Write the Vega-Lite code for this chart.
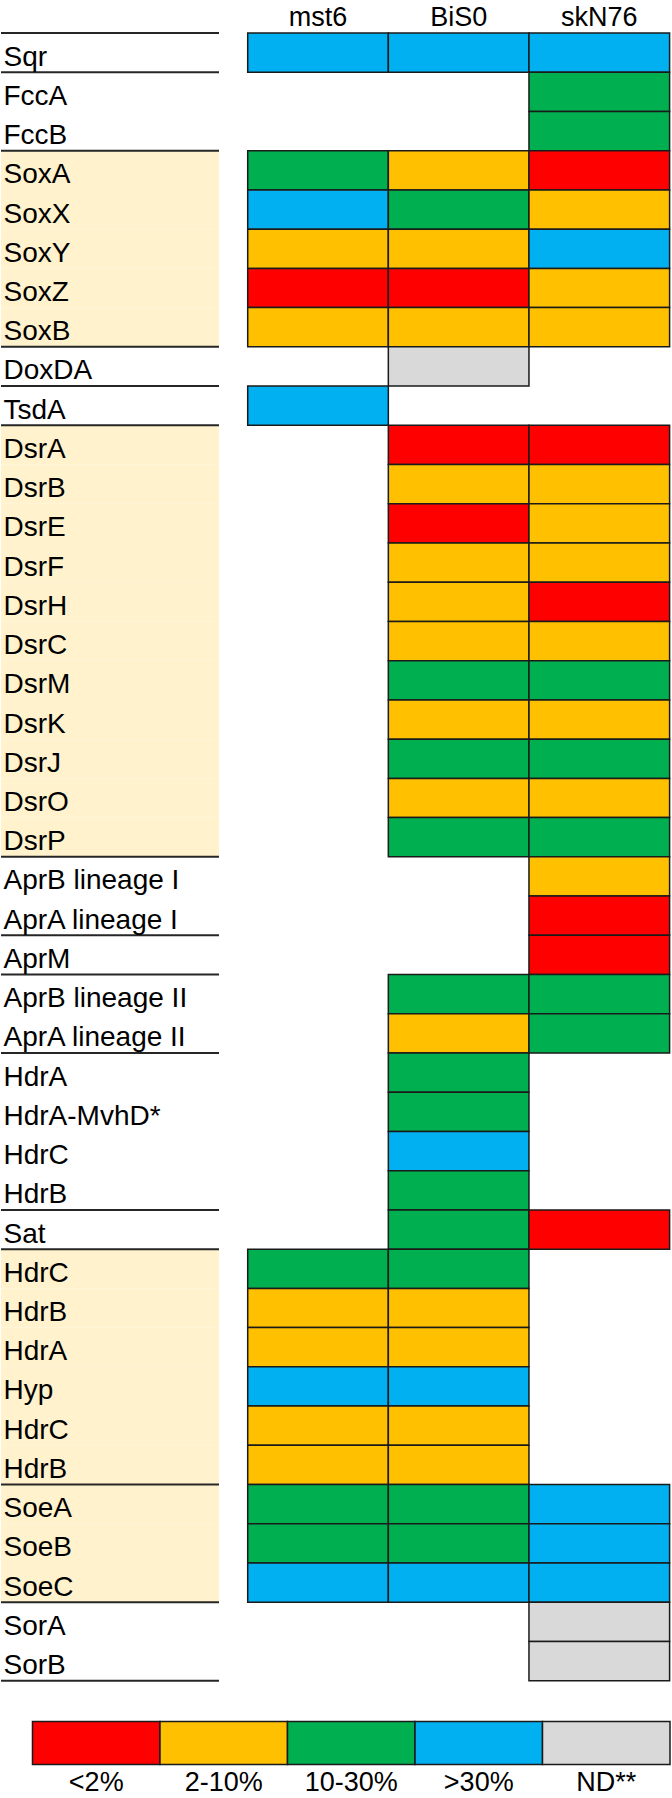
{
  "$schema": "https://vega.github.io/schema/vega-lite/v6.json",
  "padding": {"left": 0, "top": 3, "right": 0, "bottom": 0},
  "background": "white",
  "config": {"view": {"stroke": null}, "font": "Liberation Sans"},
  "datasets": {
    "rows": [
      {"i": 0, "key": "00 Sqr", "group": "Sqr", "shade": false, "mst6": ">30%", "BiS0": ">30%", "skN76": ">30%"},
      {"i": 1, "key": "01 FccA", "group": "Fcc", "shade": false, "skN76": "10-30%"},
      {"i": 2, "key": "02 FccB", "group": "Fcc", "shade": false, "skN76": "10-30%"},
      {"i": 3, "key": "03 SoxA", "group": "Sox", "shade": true, "mst6": "10-30%", "BiS0": "2-10%", "skN76": "<2%"},
      {"i": 4, "key": "04 SoxX", "group": "Sox", "shade": true, "mst6": ">30%", "BiS0": "10-30%", "skN76": "2-10%"},
      {"i": 5, "key": "05 SoxY", "group": "Sox", "shade": true, "mst6": "2-10%", "BiS0": "2-10%", "skN76": ">30%"},
      {"i": 6, "key": "06 SoxZ", "group": "Sox", "shade": true, "mst6": "<2%", "BiS0": "<2%", "skN76": "2-10%"},
      {"i": 7, "key": "07 SoxB", "group": "Sox", "shade": true, "mst6": "2-10%", "BiS0": "2-10%", "skN76": "2-10%"},
      {"i": 8, "key": "08 DoxDA", "group": "DoxDA", "shade": false, "BiS0": "ND**"},
      {"i": 9, "key": "09 TsdA", "group": "TsdA", "shade": false, "mst6": ">30%"},
      {"i": 10, "key": "10 DsrA", "group": "Dsr", "shade": true, "BiS0": "<2%", "skN76": "<2%"},
      {"i": 11, "key": "11 DsrB", "group": "Dsr", "shade": true, "BiS0": "2-10%", "skN76": "2-10%"},
      {"i": 12, "key": "12 DsrE", "group": "Dsr", "shade": true, "BiS0": "<2%", "skN76": "2-10%"},
      {"i": 13, "key": "13 DsrF", "group": "Dsr", "shade": true, "BiS0": "2-10%", "skN76": "2-10%"},
      {"i": 14, "key": "14 DsrH", "group": "Dsr", "shade": true, "BiS0": "2-10%", "skN76": "<2%"},
      {"i": 15, "key": "15 DsrC", "group": "Dsr", "shade": true, "BiS0": "2-10%", "skN76": "2-10%"},
      {"i": 16, "key": "16 DsrM", "group": "Dsr", "shade": true, "BiS0": "10-30%", "skN76": "10-30%"},
      {"i": 17, "key": "17 DsrK", "group": "Dsr", "shade": true, "BiS0": "2-10%", "skN76": "2-10%"},
      {"i": 18, "key": "18 DsrJ", "group": "Dsr", "shade": true, "BiS0": "10-30%", "skN76": "10-30%"},
      {"i": 19, "key": "19 DsrO", "group": "Dsr", "shade": true, "BiS0": "2-10%", "skN76": "2-10%"},
      {"i": 20, "key": "20 DsrP", "group": "Dsr", "shade": true, "BiS0": "10-30%", "skN76": "10-30%"},
      {"i": 21, "key": "21 AprB lineage I", "group": "AprI", "shade": false, "skN76": "2-10%"},
      {"i": 22, "key": "22 AprA lineage I", "group": "AprI", "shade": false, "skN76": "<2%"},
      {"i": 23, "key": "23 AprM", "group": "AprM", "shade": false, "skN76": "<2%"},
      {"i": 24, "key": "24 AprB lineage II", "group": "AprII", "shade": false, "BiS0": "10-30%", "skN76": "10-30%"},
      {"i": 25, "key": "25 AprA lineage II", "group": "AprII", "shade": false, "BiS0": "2-10%", "skN76": "10-30%"},
      {"i": 26, "key": "26 HdrA", "group": "HdrMvh", "shade": false, "BiS0": "10-30%"},
      {"i": 27, "key": "27 HdrA-MvhD*", "group": "HdrMvh", "shade": false, "BiS0": "10-30%"},
      {"i": 28, "key": "28 HdrC", "group": "HdrMvh", "shade": false, "BiS0": ">30%"},
      {"i": 29, "key": "29 HdrB", "group": "HdrMvh", "shade": false, "BiS0": "10-30%"},
      {"i": 30, "key": "30 Sat", "group": "Sat", "shade": false, "BiS0": "10-30%", "skN76": "<2%"},
      {"i": 31, "key": "31 HdrC", "group": "HdrHyp", "shade": true, "mst6": "10-30%", "BiS0": "10-30%"},
      {"i": 32, "key": "32 HdrB", "group": "HdrHyp", "shade": true, "mst6": "2-10%", "BiS0": "2-10%"},
      {"i": 33, "key": "33 HdrA", "group": "HdrHyp", "shade": true, "mst6": "2-10%", "BiS0": "2-10%"},
      {"i": 34, "key": "34 Hyp", "group": "HdrHyp", "shade": true, "mst6": ">30%", "BiS0": ">30%"},
      {"i": 35, "key": "35 HdrC", "group": "HdrHyp", "shade": true, "mst6": "2-10%", "BiS0": "2-10%"},
      {"i": 36, "key": "36 HdrB", "group": "HdrHyp", "shade": true, "mst6": "2-10%", "BiS0": "2-10%"},
      {"i": 37, "key": "37 SoeA", "group": "Soe", "shade": true, "mst6": "10-30%", "BiS0": "10-30%", "skN76": ">30%"},
      {"i": 38, "key": "38 SoeB", "group": "Soe", "shade": true, "mst6": "10-30%", "BiS0": "10-30%", "skN76": ">30%"},
      {"i": 39, "key": "39 SoeC", "group": "Soe", "shade": true, "mst6": ">30%", "BiS0": ">30%", "skN76": ">30%"},
      {"i": 40, "key": "40 SorA", "group": "Sor", "shade": false, "skN76": "ND**"},
      {"i": 41, "key": "41 SorB", "group": "Sor", "shade": false, "skN76": "ND**"}
    ],
    "legend": [
      {"cat": "<2%"},
      {"cat": "2-10%"},
      {"cat": "10-30%"},
      {"cat": ">30%"},
      {"cat": "ND**"}
    ]
  },
  "spacing": 38.5,
  "vconcat": [
    {
      "bounds": "flush",
      "spacing": 28.7,
      "hconcat": [
        {
          "width": 218,
          "height": 1647.7,
          "data": {"name": "rows"},
          "layer": [
            {
              "mark": {"type": "rect", "fill": "#FFF2CC"},
              "encoding": {
                "y": {
                  "field": "key", "type": "ordinal", "title": null,
                  "scale": {"paddingInner": 0, "paddingOuter": 0},
                  "axis": {
                    "orient": "left", "domain": false, "ticks": false, "tickSize": 0,
                    "labelAlign": "left", "labelPadding": -2, "labelBaseline": "alphabetic",
                    "labelOffset": 13, "labelFontSize": 28, "labelFont": "Liberation Sans",
                    "labelColor": "black", "labelLimit": 400, "labelOverlap": false,
                    "labelBound": false, "zindex": 2,
                    "labelExpr": "substring(datum.label, 3)"
                  }
                },
                "opacity": {"condition": {"test": "datum.shade", "value": 1}, "value": 0}
              }
            },
            {
              "transform": [
                {"aggregate": [{"op": "argmax", "field": "i", "as": "last"}], "groupby": ["group"]}
              ],
              "mark": {"type": "rule", "color": "#262626", "strokeWidth": 2},
              "encoding": {
                "y": {"field": "last.key", "type": "ordinal", "title": null, "bandPosition": 1}
              }
            },
            {
              "transform": [
                {"aggregate": [{"op": "argmin", "field": "i", "as": "first"}]}
              ],
              "mark": {"type": "rule", "color": "#262626", "strokeWidth": 2},
              "encoding": {
                "y": {"field": "first.key", "type": "ordinal", "title": null, "bandPosition": 0}
              }
            }
          ]
        },
        {
          "width": 421.9,
          "height": 1647.7,
          "data": {"name": "rows"},
          "transform": [
            {"fold": ["mst6", "BiS0", "skN76"], "as": ["col", "cat"]},
            {"filter": "isValid(datum.cat)"}
          ],
          "mark": {"type": "rect", "stroke": "#1a1a1a", "strokeWidth": 1.5},
          "encoding": {
            "x": {
              "field": "col", "type": "nominal", "title": null,
              "sort": ["mst6", "BiS0", "skN76"],
              "scale": {"paddingInner": 0, "paddingOuter": 0},
              "axis": {
                "orient": "top", "domain": false, "ticks": false, "tickSize": 0,
                "labelAngle": 0, "labelFontSize": 27, "labelFont": "Liberation Sans",
                "labelColor": "black", "labelPadding": 8, "labelBaseline": "alphabetic"
              }
            },
            "y": {
              "field": "key", "type": "ordinal", "title": null,
              "scale": {"paddingInner": 0, "paddingOuter": 0},
              "axis": null
            },
            "fill": {
              "field": "cat", "type": "nominal",
              "scale": {
                "domain": ["<2%", "2-10%", "10-30%", ">30%", "ND**"],
                "range": ["#FF0000", "#FFC000", "#00B050", "#00B0F0", "#D9D9D9"]
              },
              "legend": null
            }
          }
        }
      ]
    },
    {
      "width": 669,
      "height": 43,
      "data": {"name": "legend"},
      "mark": {"type": "rect", "stroke": "#1a1a1a", "strokeWidth": 1.5},
      "encoding": {
        "x": {
          "field": "cat", "type": "nominal", "title": null, "sort": null,
          "scale": {"paddingInner": 0, "paddingOuter": 0.1235, "align": 1},
          "axis": {
            "orient": "bottom", "domain": false, "ticks": false, "tickSize": 0,
            "labelAngle": 0, "labelFontSize": 27, "labelFont": "Liberation Sans",
            "labelColor": "black", "labelPadding": 26, "labelBaseline": "alphabetic"
          }
        },
        "fill": {
          "field": "cat", "type": "nominal",
          "scale": {
            "domain": ["<2%", "2-10%", "10-30%", ">30%", "ND**"],
            "range": ["#FF0000", "#FFC000", "#00B050", "#00B0F0", "#D9D9D9"]
          },
          "legend": null
        }
      }
    }
  ]
}
